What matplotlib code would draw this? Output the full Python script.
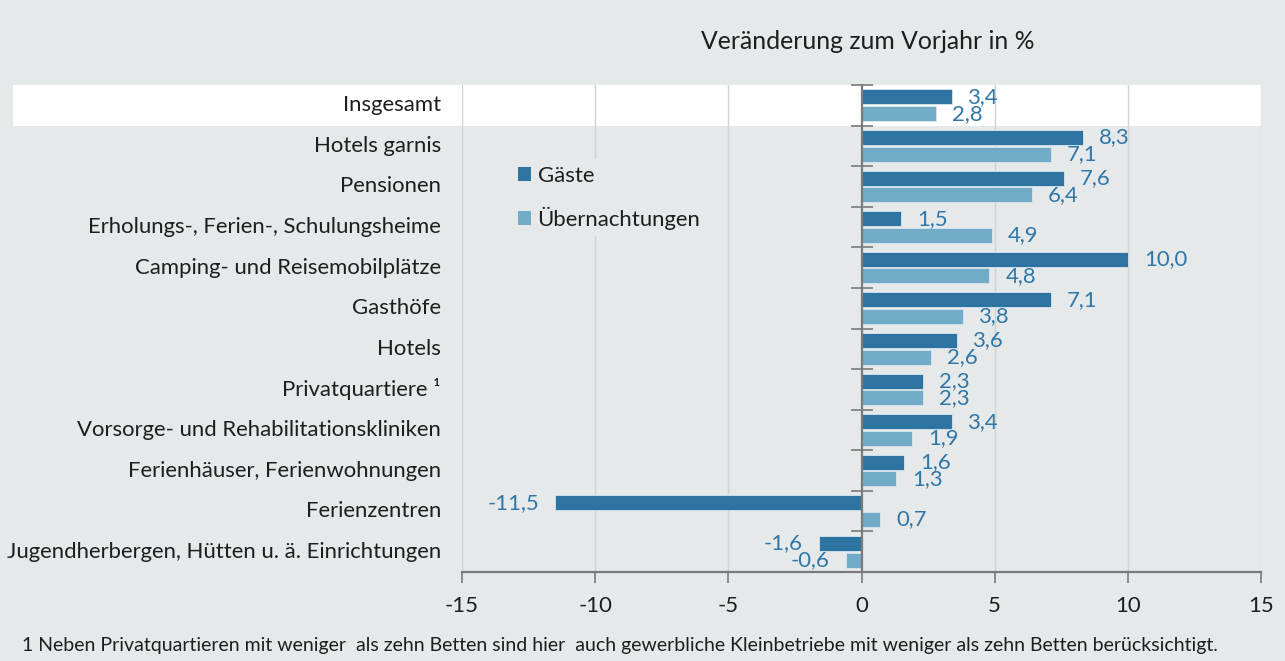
import matplotlib
matplotlib.use("Agg")
import matplotlib.pyplot as plt
from matplotlib.patches import Rectangle, Patch
import matplotlib.transforms as mtransforms

categories = ["Insgesamt", "Hotels garnis", "Pensionen",
              "Erholungs-, Ferien-, Schulungsheime",
              "Camping- und Reisemobilplätze", "Gasthöfe", "Hotels",
              "Privatquartiere \u00b9",
              "Vorsorge- und Rehabilitationskliniken",
              "Ferienhäuser, Ferienwohnungen", "Ferienzentren",
              "Jugendherbergen, Hütten u. ä. Einrichtungen"]
gaeste = [3.4, 8.3, 7.6, 1.5, 10.0, 7.1, 3.6, 2.3, 3.4, 1.6, -11.5, -1.6]
uebernachtungen = [2.8, 7.1, 6.4, 4.9, 4.8, 3.8, 2.6, 2.3, 1.9, 1.3, 0.7, -0.6]
xticks = [-15, -10, -5, 0, 5, 10, 15]

BG = "#e6e9ea"
DARK = "#2d74a2"
LIGHT = "#72abc8"
LBL = "#2f77a8"
TXT = "#1e1e1e"
GRID = "#cfd3d5"
AX = "#7a7a7a"

plt.rcParams['font.family'] = ['Lato', 'DejaVu Sans']
FS = 15.9

fig = plt.figure(figsize=(12.85, 6.61), dpi=100, facecolor=BG)
ax = fig.add_axes([462/1285, 1-572/661, 799/1285, 487/661])
ax.set_facecolor("none")
ax.set_zorder(2)

# white band for Insgesamt
fig.patches.append(Rectangle((13/1285, 1-126/661), (1261-13)/1285, 41/661,
                             transform=fig.transFigure, facecolor="white",
                             edgecolor="none", zorder=-5))

n = len(categories)
y = list(range(n))
h = 0.37
off = 0.205
yd = [i - off for i in y]
yl = [i + off for i in y]
ax.barh(yd, gaeste, height=h, color=DARK, edgecolor="#d8e6ee", linewidth=0.6, zorder=3)
ax.barh(yl, uebernachtungen, height=h, color=LIGHT, edgecolor="#d8e6ee", linewidth=0.6, zorder=3)

def fmt(v):
    return f"{v:.1f}".replace(".", ",")

for yy, v in list(zip(yd, gaeste)) + list(zip(yl, uebernachtungen)):
    ax.annotate(fmt(v), (v, yy), xytext=(11.5 if v >= 0 else -11.5, 0),
                textcoords="offset points", ha="left" if v >= 0 else "right",
                va="center", color=LBL, fontsize=FS, zorder=5)

ax.set_xlim(-15, 15)
ax.set_ylim(n - 0.5, -0.5)
ax.set_xticks(xticks)
ax.set_xticklabels([str(t) for t in xticks], fontsize=FS, color=TXT)
for t in xticks:
    if t != 0:
        ax.axvline(t, color=GRID, linewidth=1.0, zorder=1)

ax.spines['top'].set_visible(False)
ax.spines['right'].set_visible(False)
ax.spines['left'].set_position(('data', 0))
ax.spines['left'].set_color(AX)
ax.spines['left'].set_linewidth(1.6)
ax.spines['left'].set_zorder(4)
ax.spines['bottom'].set_color(AX)
ax.spines['bottom'].set_linewidth(1.6)
ax.tick_params(axis='x', direction='out', length=8, width=1.2, color=AX, pad=9)
ax.set_yticks([i - 0.5 for i in range(n)])
ax.tick_params(axis='y', direction='inout', length=16, width=1.2, color=AX,
               labelleft=False)

trans = mtransforms.blended_transform_factory(fig.transFigure, ax.transData)
for i, c in enumerate(categories):
    ax.text(441/1285, i, c, transform=trans, ha="right", va="center",
            fontsize=FS, color=TXT)

ax.set_title("Veränderung zum Vorjahr in %", fontsize=17.8, color=TXT,
             pad=26, x=0.5075)

handles = [Patch(facecolor=DARK, edgecolor="none"),
           Patch(facecolor=LIGHT, edgecolor="none")]
leg = ax.legend(handles, ["Gäste", "Übernachtungen"], loc="upper left",
                bbox_to_anchor=((500-462)/799, (572-148)/487),
                frameon=True, facecolor=BG, edgecolor="none", framealpha=1,
                fontsize=FS, handlelength=0.6, handleheight=0.6,
                handletextpad=0.3, labelspacing=0.95, borderpad=0.3)
for t in leg.get_texts():
    t.set_color(TXT)
leg.set_zorder(6)

fig.text(22/1285, 1-646/661,
         "1 Neben Privatquartieren mit weniger  als zehn Betten sind hier  auch gewerbliche Kleinbetriebe mit weniger als zehn Betten berücksichtigt.",
         ha="left", va="center", fontsize=14.0, color=TXT)

fig.savefig("out.png", dpi=100, facecolor=BG)
